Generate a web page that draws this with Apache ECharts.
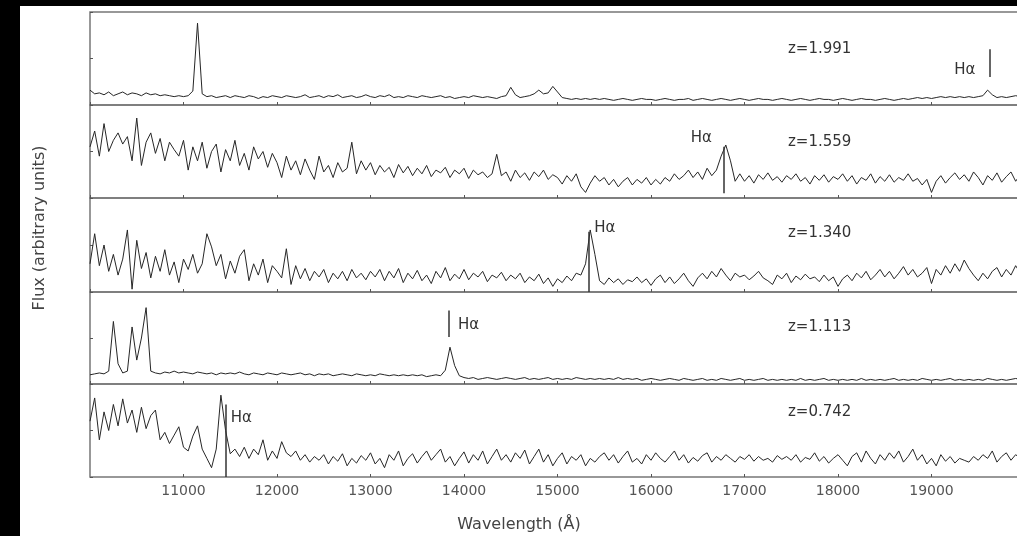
<!DOCTYPE html>
<html>
<head>
<meta charset="utf-8">
<script src="https://cdn.jsdelivr.net/npm/echarts@6/dist/echarts.min.js"></script>
<style>
  html, body { margin: 0; background: #000; }
  #chart { position: absolute; left: 20px; top: 6px; width: 997px; height: 530px; background: #fff; }
</style>
</head>
<body>
<div id="chart"></div>
<script>
// spectra sampled every 50 A, 10000..20000 A (201 points), flux in arbitrary units (0-100 per panel)
const waveStart = 10000;
const waveStep = 50;

const redshifts = ['z=1.991', 'z=1.559', 'z=1.340', 'z=1.113', 'z=0.742'];

const spec1991 = [
  16,12,13,11,14,10,12,14,11,13,  12,10,13,11,12,10,11,10,9,10,
  9,10,15,88,12,9,10,8,9,10,      8,10,9,8,10,9,7,9,8,10,
  9,8,10,9,8,9,11,8,9,10,         8,10,9,11,8,9,10,8,9,11,
  9,8,10,9,11,8,9,8,10,9,         8,10,9,8,9,10,8,9,7,8,
  9,8,10,9,8,9,8,7,9,10,          19,11,8,9,10,12,16,12,13,20,
  14,8,7,6,7,6,7,6,7,6,           7,6,5,6,7,6,5,6,7,6,
  6,5,6,7,6,5,6,6,7,5,            6,7,6,5,6,7,6,5,6,7,
  6,5,6,7,6,6,5,6,7,6,            5,6,7,6,5,6,7,6,6,5,
  6,7,6,5,6,7,6,6,5,6,            7,6,5,6,7,6,7,8,7,8,
  7,8,9,8,9,8,9,8,9,8,            9,10,16,11,8,9,8,9,10,9,
  9
];

const spec1559 = [
  55,72,45,80,50,62,70,58,66,40,  86,35,60,70,48,64,40,60,52,45,
  62,30,55,40,60,32,50,58,28,52,  40,62,35,48,30,55,42,50,33,48,
  38,22,45,30,40,25,42,30,20,45,  28,35,22,38,28,32,60,26,40,30,
  38,25,35,28,33,22,36,27,34,24,  32,26,35,23,30,27,33,22,30,26,
  32,21,30,25,28,22,26,47,24,28,  18,30,22,27,19,28,23,30,20,25,
  22,15,24,18,26,12,6,16,24,18,   22,14,20,12,18,22,14,20,16,22,
  14,20,15,22,18,26,20,24,30,22,  28,20,32,24,30,45,57,40,18,26,
  18,24,16,25,20,27,19,23,17,24,  20,26,18,22,15,24,19,25,17,23,
  20,26,18,24,15,22,19,26,16,23,  18,25,17,22,19,26,18,21,14,20,
  6,18,24,16,22,27,20,25,18,28,   22,14,24,19,27,17,23,28,18,25,
  20
];

const spec1340 = [
  30,62,28,50,22,40,18,35,66,3,   55,25,42,15,38,22,45,18,32,10,
  35,24,40,20,30,62,48,28,40,14,  33,20,38,45,12,30,18,35,10,28,
  22,15,46,8,28,14,25,12,22,16,   24,10,20,14,22,12,24,15,20,13,
  22,16,24,12,22,15,25,10,20,14,  23,12,18,9,22,15,26,12,19,14,
  24,13,20,16,22,11,18,15,21,12,  18,14,20,10,16,12,19,9,15,6,
  14,10,17,12,20,18,30,66,40,12,  8,15,10,14,8,13,11,16,10,14,
  7,14,18,10,16,9,14,20,12,6,     15,20,14,22,16,25,18,12,20,16,
  18,13,17,22,15,12,8,18,14,20,   10,17,13,19,14,16,11,18,12,16,
  6,14,18,12,20,15,22,13,18,24,   16,22,14,20,27,18,24,16,20,26,
  9,24,18,28,20,30,22,34,25,18,   12,20,14,22,26,16,24,18,28,20,
  24
];

const spec1113 = [
  10,11,12,11,14,68,22,12,14,62,  26,50,83,14,12,11,13,12,14,12,
  13,12,11,13,12,11,12,10,12,11,  12,11,13,11,10,12,11,10,12,11,
  10,12,11,10,11,12,10,11,9,11,   10,11,9,10,11,10,9,11,10,9,
  10,9,11,10,9,10,9,10,9,10,      9,10,8,9,10,9,15,40,20,9,
  7,6,7,5,6,7,6,5,6,7,            6,5,6,7,5,6,5,6,7,5,
  6,5,6,5,7,6,5,6,5,6,            5,6,5,7,5,6,5,6,4,5,
  6,5,4,5,6,5,4,6,5,4,            5,6,4,5,4,6,5,4,5,6,
  4,5,4,5,6,4,5,4,5,4,            5,4,6,4,5,4,5,6,4,5,
  4,5,4,5,4,6,4,5,4,5,            4,5,6,4,5,4,5,4,6,5,
  4,5,4,5,6,4,5,4,5,4,            5,4,6,5,4,5,4,5,6,5,
  5
];

const spec0742 = [
  60,85,40,70,50,78,55,84,58,72,  48,75,52,66,72,40,48,36,45,54,
  32,28,44,55,30,20,10,30,88,50,  25,30,22,32,20,30,24,40,18,28,
  20,38,26,22,28,18,24,16,22,18,  24,14,22,17,25,12,20,15,23,18,
  26,14,20,10,24,18,28,12,20,25,  15,22,28,18,24,30,16,22,12,20,
  27,15,24,18,28,14,22,30,18,24,  16,26,20,29,14,22,30,16,24,12,
  20,26,14,22,18,24,12,20,16,22,  26,18,24,15,22,28,16,20,14,24,
  18,26,20,16,22,28,18,24,15,21,  17,23,26,16,22,18,24,20,16,22,
  19,24,17,22,18,20,16,23,19,22,  18,24,16,21,19,26,17,22,15,20,
  24,18,12,22,26,16,28,20,14,24,  18,26,20,28,16,22,30,18,24,14,
  20,12,24,17,22,15,20,18,16,22,  18,24,20,28,16,22,26,18,24,20,
  22
];

const spectra = [spec1991, spec1559, spec1340, spec1113, spec0742];

// layout of the five stacked panels (px inside the chart div)
const panelTop = [6, 99, 192, 286, 378];
const panelHeight = [93, 93, 94, 92, 93];

// annotations, in data coordinates
const zLabelPos = [[17465, 60], [17465, 60], [17465, 63], [17465, 62], [17465, 70]];
const haLabel = [
  { coord: [19620, 38], position: 'left', distance: 14 },
  { coord: [16800, 64], position: 'left', distance: 14 },
  { coord: [15350, 68], position: 'right', distance: 4 },
  { coord: [13840, 64], position: 'right', distance: 9 },
  { coord: [11420, 63], position: 'right', distance: 8 }
];
const haBar = [
  [19620, 30, 60],
  [16780, 5, 55],
  [15330, 0, 64],
  [13840, 51, 80],
  [11450, 0, 78]
];

const chart = echarts.init(document.getElementById('chart'));

const font = '"DejaVu Sans", sans-serif';
const grids = [], xAxes = [], yAxes = [], series = [];

for (let i = 0; i < 5; i++) {
  grids.push({
    left: 70, right: -8, top: panelTop[i], height: panelHeight[i],
    outerBoundsMode: 'none',
    show: true, borderColor: '#777', borderWidth: 1.5
  });
  xAxes.push({
    gridIndex: i, type: 'value', min: 10000, max: 20000, interval: 1000,
    axisLine: { show: false },
    axisTick: { show: true, inside: true, length: 3, lineStyle: { color: '#555' } },
    axisLabel: {
      show: i === 4, margin: 7, color: '#555', fontSize: 14, fontFamily: font,
      showMinLabel: false, showMaxLabel: false,
      formatter: v => String(v)
    },
    splitLine: { show: false }
  });
  yAxes.push({
    gridIndex: i, type: 'value', min: 0, max: 100, interval: 50,
    axisLine: { show: false },
    axisTick: { show: true, inside: true, length: 3, lineStyle: { color: '#555' } },
    axisLabel: { show: false },
    splitLine: { show: false }
  });

  const hl = haLabel[i];
  const hb = haBar[i];
  series.push({
    type: 'line',
    xAxisIndex: i, yAxisIndex: i,
    data: spectra[i].map((f, k) => [waveStart + k * waveStep, f]),
    showSymbol: false,
    lineStyle: { color: '#262626', width: 1 },
    silent: true,
    markPoint: {
      symbol: 'circle', symbolSize: 0, silent: true,
      data: [
        {
          coord: zLabelPos[i],
          label: { show: true, position: 'right', distance: 0, formatter: redshifts[i],
                   color: '#333', fontSize: 15, fontFamily: font }
        },
        {
          coord: hl.coord,
          label: { show: true, position: hl.position, distance: hl.distance, formatter: 'Hα',
                   color: '#333', fontSize: 15, fontFamily: font }
        }
      ]
    },
    markLine: {
      symbol: ['none', 'none'], silent: true,
      label: { show: false },
      lineStyle: { color: '#333', width: 1.5, type: 'solid' },
      data: [[{ coord: [hb[0], hb[1]] }, { coord: [hb[0], hb[2]] }]]
    }
  });
}

chart.setOption({
  animation: false,
  backgroundColor: '#fff',
  grid: grids,
  xAxis: xAxes,
  yAxis: yAxes,
  series: series,
  graphic: [
    {
      type: 'text', x: 20, y: 222, rotation: Math.PI / 2,
      style: { text: 'Flux (arbitrary units)', font: '16px "DejaVu Sans"', fill: '#444',
               align: 'center', verticalAlign: 'middle' }
    },
    {
      type: 'text', x: 499, y: 519,
      style: { text: 'Wavelength (Å)', font: '16px "DejaVu Sans"', fill: '#444',
               align: 'center', verticalAlign: 'middle' }
    }
  ]
});
</script>
</body>
</html>
